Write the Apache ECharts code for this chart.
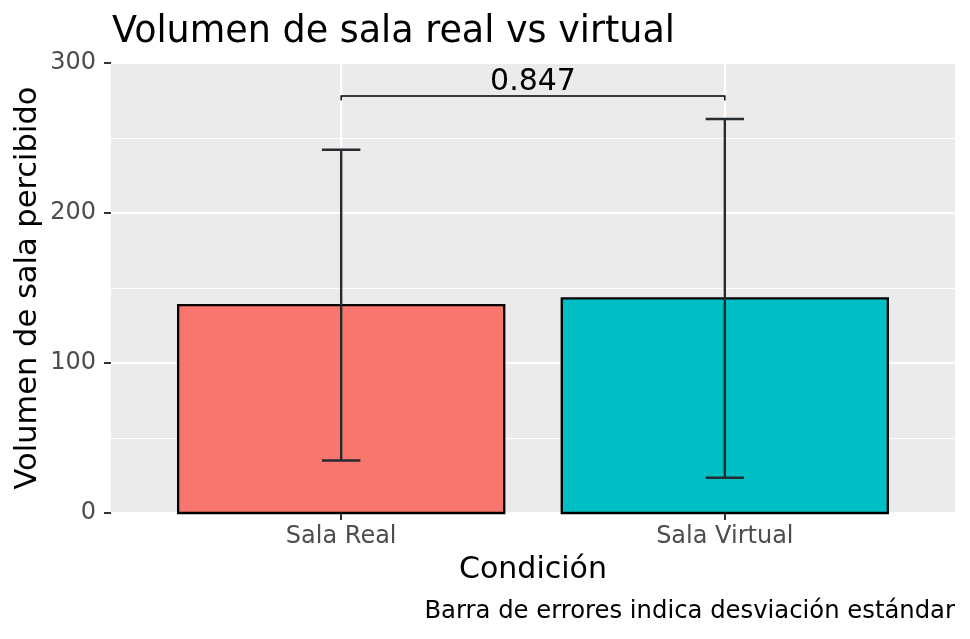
<!DOCTYPE html>
<html>
<head>
<meta charset="utf-8">
<script src="https://cdn.jsdelivr.net/npm/echarts@6/dist/echarts.min.js"></script>
<style>
html,body{margin:0;padding:0;background:#fff;}
#c{width:970px;height:639px;}
</style>
</head>
<body>
<div id="c"></div>
<script>
// ---- data ----
const categories = ['Sala Real', 'Sala Virtual'];
const means = [138.6, 143.1];
const sds = [103.6, 119.6];
const barColors = ['#F8766D', '#00BFC4'];
const yTicks = [0, 100, 200, 300];
const pValueLabel = '0.847';
const bracketY = 278;
const titleText = 'Volumen de sala real vs virtual';
const xTitle = 'Condición';
const yTitle = 'Volumen de sala percibido';
const captionText = 'Barra de errores indica desviación estándar';

// ---- helpers ----
const FONT = 'DejaVu Sans';
const BAR_W = 0.85;
const CAP_W = 0.1;
const xPos = categories.map((c, i) => i + 1);

const barData = xPos.map((x, i) => [x, means[i]]);
const errData = xPos.map((x, i) => [x, means[i] - sds[i], means[i] + sds[i]]);
const gridData = xPos.map(x => [x]);
const bracketData = [[xPos[0], xPos[1], bracketY, pValueLabel]];

const chart = echarts.init(document.getElementById('c'), null, {renderer: 'canvas'});

const option = {
  backgroundColor: '#ffffff',
  animation: false,
  title: {
    text: titleText,
    left: 107,
    top: 9,
    textStyle: {fontFamily: FONT, fontSize: 36.5, fontWeight: 'normal', color: '#000'}
  },
  grid: {
    left: 111, right: 15, top: 63, bottom: 126,
    show: true, backgroundColor: '#EBEBEB', borderWidth: 0
  },
  xAxis: {
    type: 'value',
    min: 0.4, max: 2.6,
    name: xTitle,
    nameLocation: 'middle',
    nameGap: 42,
    nameMoveOverlap: false,
    nameTextStyle: {fontFamily: FONT, fontSize: 30, color: '#000'},
    axisLine: {show: false},
    axisTick: {show: true, length: 7, customValues: xPos, lineStyle: {color: '#333333', width: 2}},
    axisLabel: {
      customValues: xPos,
      margin: 12,
      fontFamily: FONT, fontSize: 24, color: '#4D4D4D',
      formatter: v => categories[Math.round(v) - 1] || ''
    },
    splitLine: {show: false}
  },
  yAxis: {
    type: 'value',
    min: yTicks[0], max: yTicks[yTicks.length - 1], interval: 100,
    name: yTitle,
    nameLocation: 'middle',
    nameGap: 67,
    nameMoveOverlap: false,
    nameTextStyle: {fontFamily: FONT, fontSize: 30.5, color: '#000'},
    axisLine: {show: false},
    axisTick: {show: true, length: 7, lineStyle: {color: '#333333', width: 2}},
    axisLabel: {margin: 15, fontFamily: FONT, fontSize: 24, color: '#4D4D4D'},
    splitLine: {show: true, lineStyle: {color: '#FFFFFF', width: 2.2}},
    minorTick: {show: false, splitNumber: 2},
    minorSplitLine: {show: true, lineStyle: {color: '#FFFFFF', width: 1.1}}
  },
  graphic: [{
    type: 'text',
    right: 15,
    top: 600,
    style: {text: captionText, fontFamily: FONT, fontSize: 24.3, fill: '#000'}
  }],
  series: [
    {
      type: 'custom',
      name: 'vgrid',
      silent: true,
      z: 1,
      data: gridData,
      renderItem: (params, api) => {
        const x = api.value(0);
        const p0 = api.coord([x, yTicks[0]]);
        const p1 = api.coord([x, yTicks[yTicks.length - 1]]);
        return {type: 'line', shape: {x1: p0[0], y1: p0[1], x2: p1[0], y2: p1[1]},
          style: {stroke: '#FFFFFF', lineWidth: 2.2}};
      }
    },
    {
      type: 'custom',
      name: 'bars',
      z: 2,
      data: barData,
      renderItem: (params, api) => {
        const x = api.value(0), y = api.value(1);
        const p0 = api.coord([x - BAR_W / 2, y]);
        const p1 = api.coord([x + BAR_W / 2, 0]);
        return {type: 'rect',
          shape: {x: p0[0], y: p0[1], width: p1[0] - p0[0], height: p1[1] - p0[1]},
          style: {fill: barColors[params.dataIndex], stroke: '#000000', lineWidth: 2.3}};
      }
    },
    {
      type: 'custom',
      name: 'errors',
      z: 3,
      data: errData,
      renderItem: (params, api) => {
        const x = api.value(0), lo = api.value(1), hi = api.value(2);
        const pl = api.coord([x, lo]);
        const ph = api.coord([x, hi]);
        const cl = api.coord([x - CAP_W / 2, lo]);
        const cr = api.coord([x + CAP_W / 2, lo]);
        const st = {stroke: '#262B30', lineWidth: 2.4};
        return {type: 'group', children: [
          {type: 'line', shape: {x1: pl[0], y1: pl[1], x2: ph[0], y2: ph[1]}, style: st},
          {type: 'line', shape: {x1: cl[0], y1: pl[1], x2: cr[0], y2: pl[1]}, style: st},
          {type: 'line', shape: {x1: cl[0], y1: ph[1], x2: cr[0], y2: ph[1]}, style: st}
        ]};
      }
    },
    {
      type: 'custom',
      name: 'signif',
      z: 4,
      data: bracketData,
      renderItem: (params, api) => {
        const x1 = api.value(0), x2 = api.value(1), y = api.value(2);
        const a = api.coord([x1, y]);
        const b = api.coord([x2, y]);
        const ta = api.coord([x1, y - 3]);
        const mid = api.coord([(x1 + x2) / 2, y]);
        const st = {stroke: '#000000', lineWidth: 1.4};
        return {type: 'group', children: [
          {type: 'polyline', shape: {points: [[a[0], ta[1]], [a[0], a[1]], [b[0], b[1]], [b[0], ta[1]]]}, style: {...st, fill: null}},
          {type: 'text', x: mid[0], y: a[1] + 1,
            style: {text: bracketData[params.dataIndex][3], fontFamily: FONT, fontSize: 30,
              fill: '#000', align: 'center', verticalAlign: 'bottom'}}
        ]};
      }
    }
  ]
};

chart.setOption(option);
</script>
</body>
</html>
